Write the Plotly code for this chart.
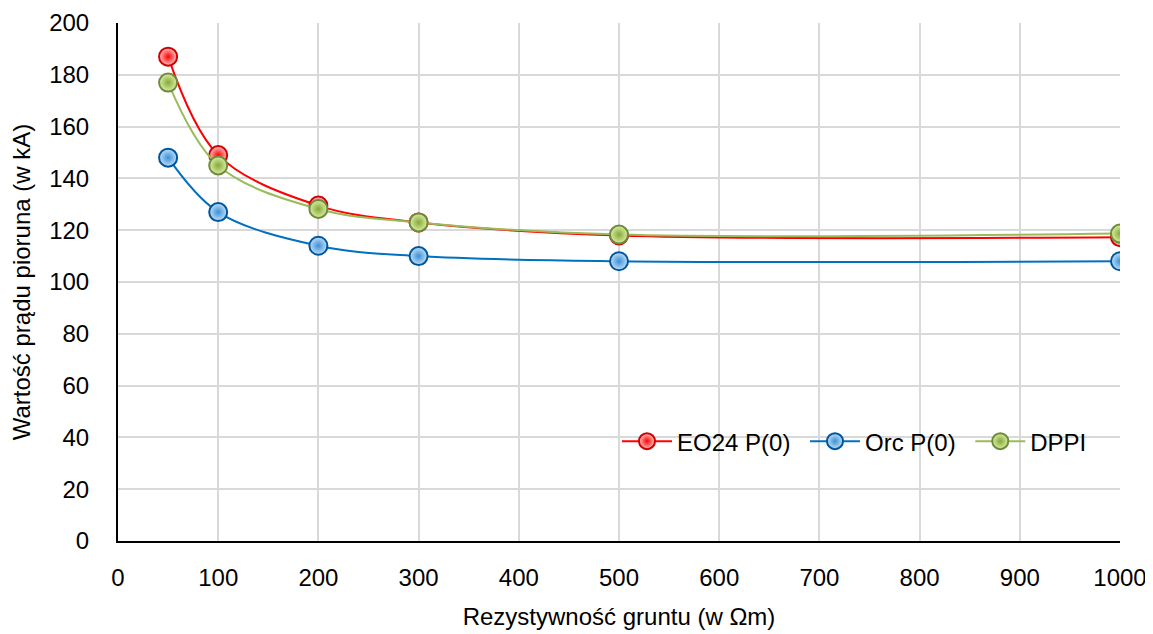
import plotly.graph_objects as go

resistivity = [50, 100, 200, 300, 500, 1000]
eo24 = [187, 149, 129.5, 123, 118, 117.3]
orc = [148, 127, 114, 110, 108, 108]
dppi = [177, 145, 128.2, 123, 118.3, 118.7]

x_ticks = list(range(0, 1001, 100))
y_ticks = list(range(0, 201, 20))

FONT = "Liberation Sans Narrow, Liberation Sans, Arial"
FS = 24
PAD = "\u2009\u2009"  # small gap after legend text, like the reference spacing

series = [
    ("EO24 P(0)", eo24, "#FF0000", "#FFC4C4", "#D00000", "#FF0000"),
    ("Orc P(0)", orc, "#0070C0", "#BFE0FA", "#00559A", "#3D8FD6"),
    ("DPPI", dppi, "#9BBB59", "#D9EFA0", "#6E8B3D", "#86A83C"),
]

fig = go.Figure()
for name, vals, lc, inner, edge, grad in series:
    fig.add_trace(go.Scatter(
        x=resistivity, y=vals, name=name + PAD, mode="lines+markers",
        line=dict(color=lc, width=2, shape="spline", smoothing=1.0),
        marker=dict(size=18, color=inner,
                    gradient=dict(type="radial", color=grad),
                    line=dict(color=edge, width=2)),
    ))

fig.update_layout(
    width=1145, height=626,
    margin=dict(l=110, r=33, t=15, b=93),
    paper_bgcolor="white", plot_bgcolor="white",
    font=dict(family=FONT, size=FS, color="black"),
    showlegend=True,
    legend=dict(orientation="h", x=0.498, y=0.192, xanchor="left", yanchor="middle",
                bgcolor="rgba(255,255,255,0)", font=dict(size=FS, family=FONT),
                itemwidth=50, tracegroupgap=0),
    xaxis=dict(range=[0, 1000], tickvals=x_ticks, showgrid=True, gridcolor="#D9D9D9",
               gridwidth=1.5, showline=True, linecolor="black", linewidth=2,
               zeroline=False, ticks="", ticklabelstandoff=14, automargin=False,
               title=dict(text="Rezystywność gruntu (w Ωm)", standoff=18,
                          font=dict(size=FS, family=FONT))),
    yaxis=dict(range=[0, 200], tickvals=y_ticks, showgrid=True, gridcolor="#D9D9D9",
               gridwidth=1.5, showline=True, linecolor="black", linewidth=2,
               zeroline=False, ticks="", ticklabelstandoff=22, automargin=False,
               title=dict(text="Wartość prądu pioruna (w kA)", standoff=16,
                          font=dict(size=FS, family=FONT))),
)

fig.write_html("out.html")
